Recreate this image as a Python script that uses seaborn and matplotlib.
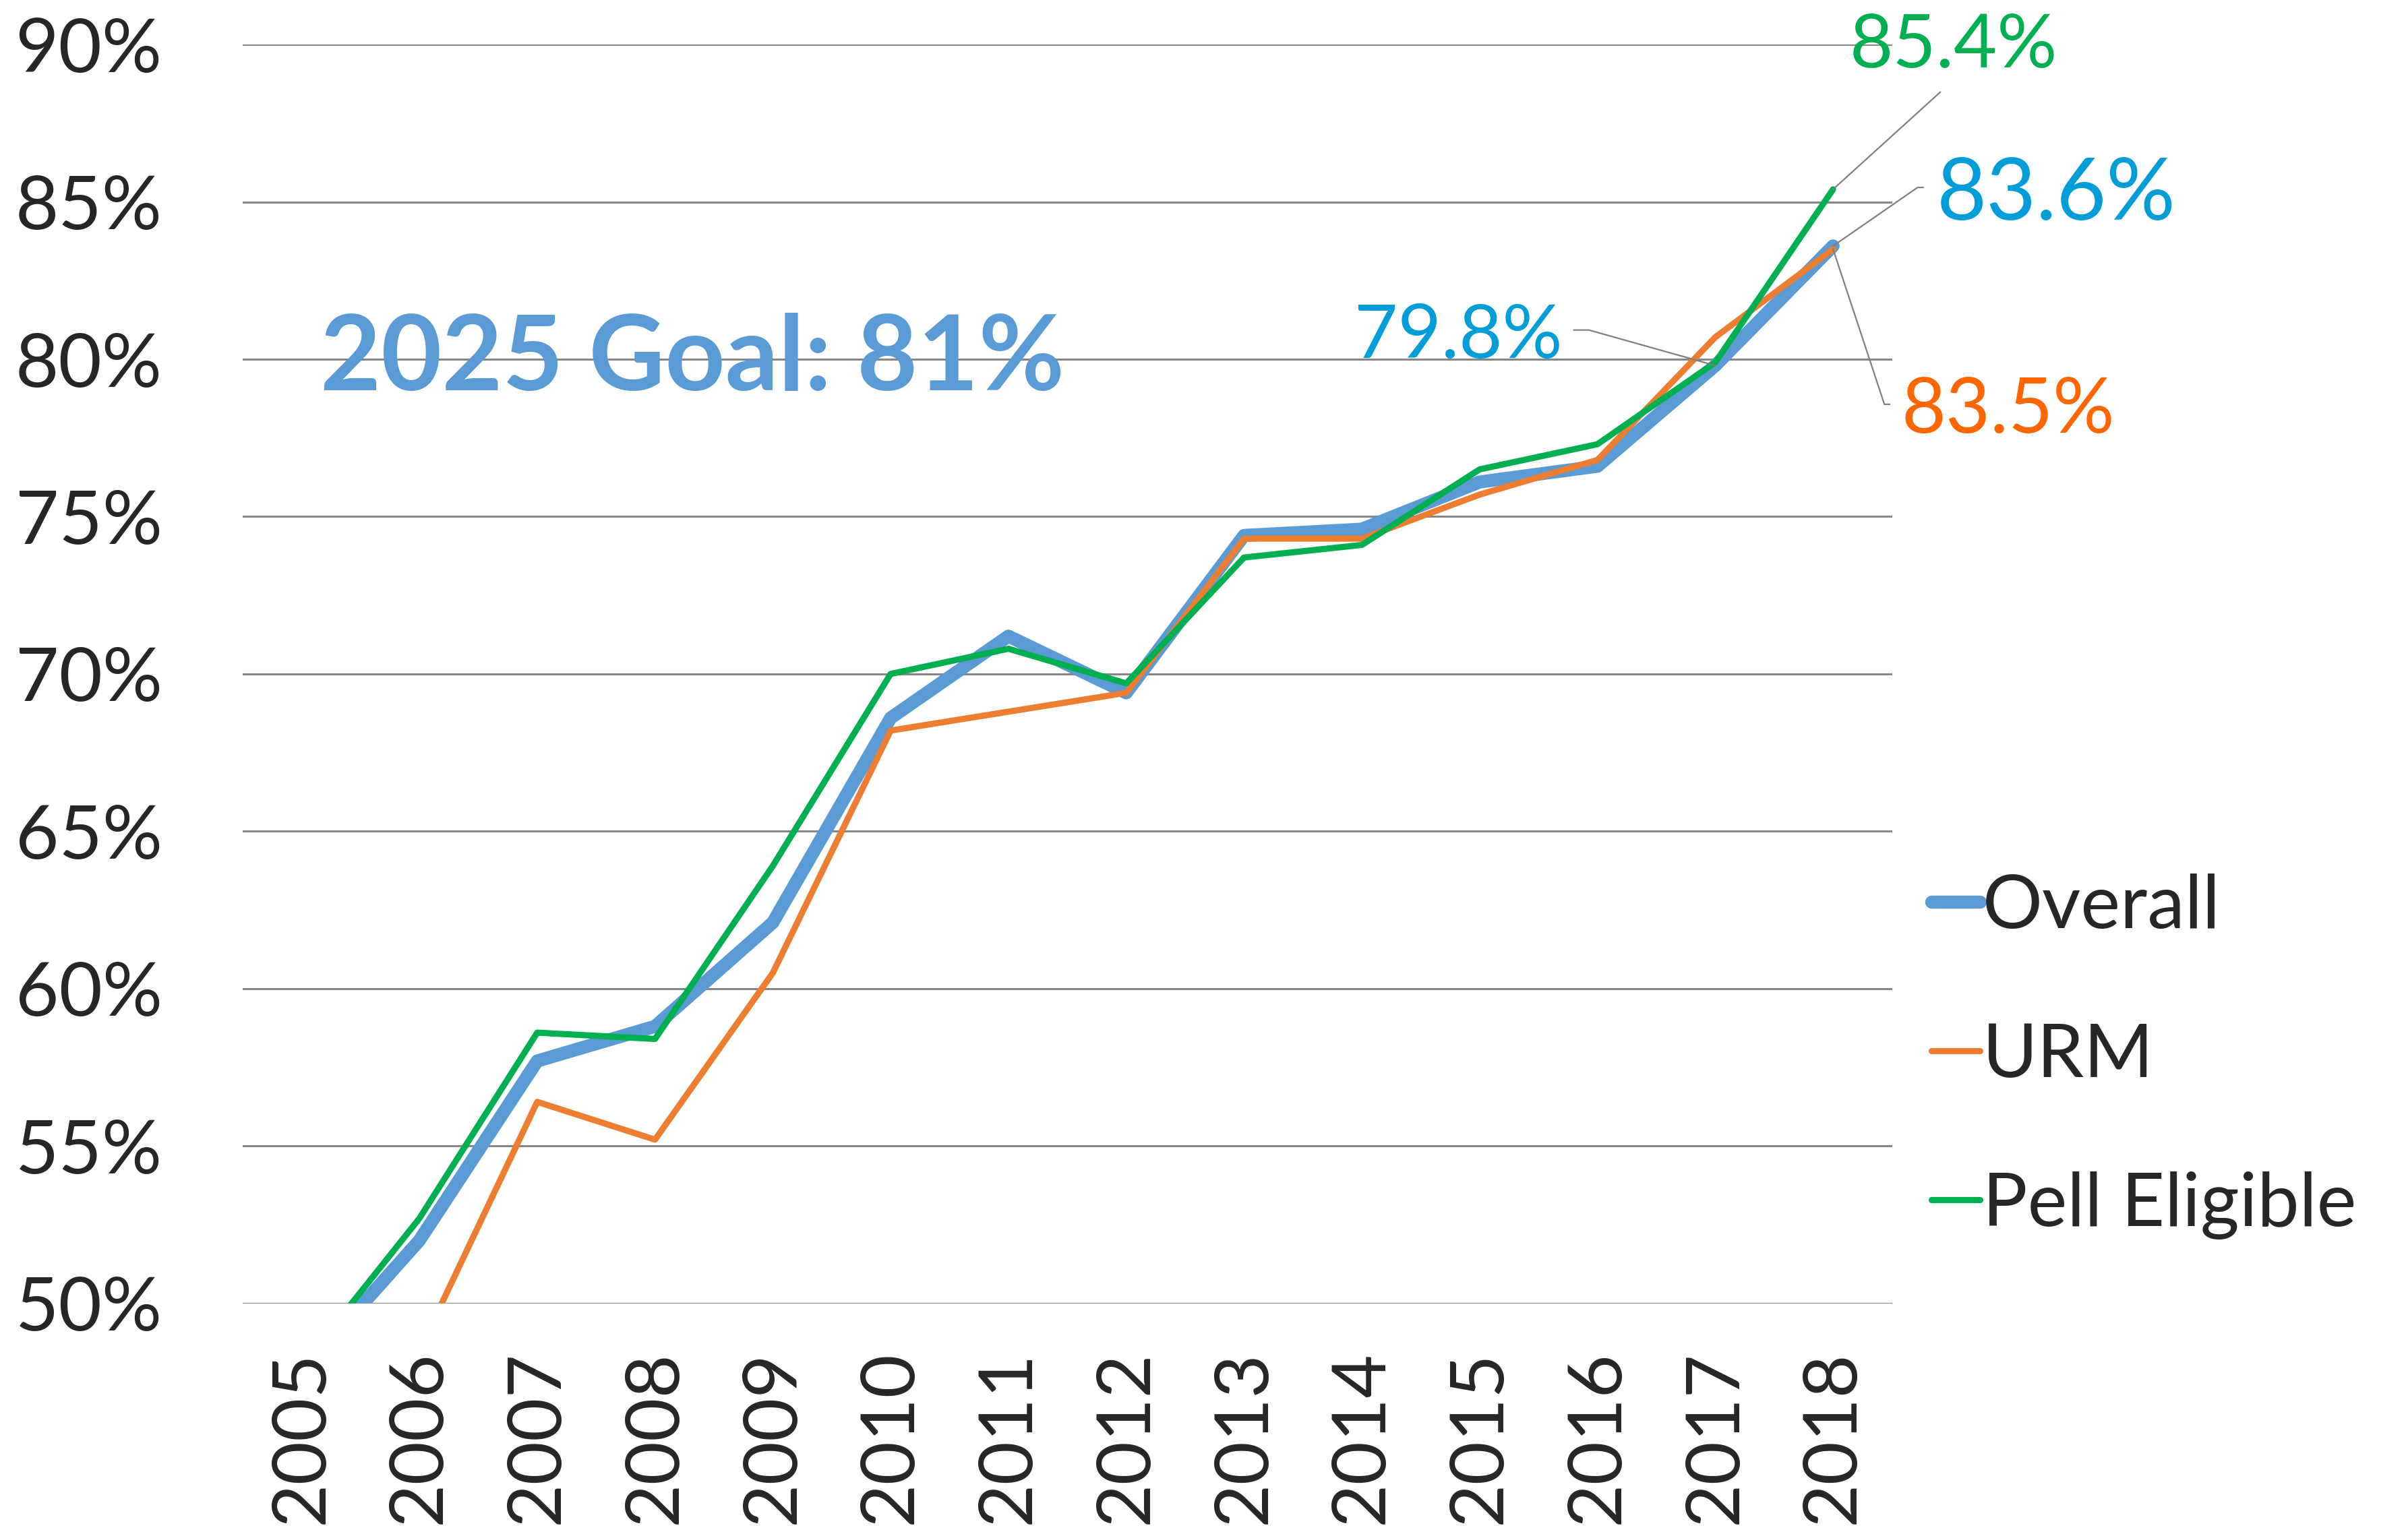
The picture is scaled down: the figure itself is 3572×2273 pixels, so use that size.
import pandas as pd
import matplotlib
matplotlib.use('Agg')
import matplotlib.pyplot as plt
import seaborn as sns

# 연도별 데이터 (%)
years = [2005, 2006, 2007, 2008, 2009, 2010, 2011, 2012, 2013, 2014, 2015, 2016, 2017, 2018]
overall = [47.8, 52.0, 57.7, 58.8, 62.1, 68.6, 71.2, 69.4, 74.4, 74.6, 76.1, 76.6, 79.8, 83.6]
urm = [45.0, 48.5, 56.4, 55.2, 60.5, 68.2, 68.8, 69.4, 74.3, 74.3, 75.7, 76.8, 80.7, 83.5]
pell = [48.0, 52.7, 58.6, 58.4, 63.9, 70.0, 70.8, 69.7, 73.7, 74.1, 76.5, 77.3, 79.9, 85.4]
y_ticks = [50, 55, 60, 65, 70, 75, 80, 85, 90]
goal_text = '2025 Goal: 81%'

series_names = ['Overall', 'URM', 'Pell Eligible']
colors = {'Overall': '#5B9BD5', 'URM': '#ED7D31', 'Pell Eligible': '#00B050'}
widths = {'Overall': 7.0, 'URM': 3.3, 'Pell Eligible': 3.3}

df = pd.DataFrame({'year': years, 'Overall': overall, 'URM': urm, 'Pell Eligible': pell})
df = df.melt(id_vars='year', var_name='series', value_name='rate')

sns.set_theme(style='white')
plt.rcParams['font.family'] = ['Lato', 'DejaVu Sans']

fig, ax = plt.subplots(figsize=(17.86, 11.365), dpi=200)
fig.subplots_adjust(left=0.1008, right=0.7857, top=0.9709, bottom=0.1493)

# 1. 선 그래프
for name in series_names:
    sub = df[df['series'] == name]
    sns.lineplot(x='year', y='rate', data=sub, ax=ax, color=colors[name], linewidth=widths[name],
                 label=name, solid_capstyle='round', solid_joinstyle='round')

# 2. 축 설정
ax.set_xlim(years[0] - 0.5, years[-1] + 0.5)
ax.set_ylim(y_ticks[0], y_ticks[-1])
ax.set_xticks(years)
ax.set_xticklabels([str(y) for y in years], rotation=90, fontsize=40)
ax.set_yticks(y_ticks)
ax.set_yticklabels([f'{t}%' for t in y_ticks], fontsize=40)
ax.tick_params(axis='y', length=0, pad=43)
ax.tick_params(axis='x', length=0, pad=25)
ax.set_xlabel('')
ax.set_ylabel('')
for s in ax.spines.values():
    s.set_visible(False)
ax.yaxis.grid(True, color='#868686', linewidth=1.1)
ax.xaxis.grid(False)
ax.set_axisbelow(True)

# 3. 목표 텍스트
ax.text(0.047, 0.7256, goal_text, transform=ax.transAxes, fontsize=56, fontweight='bold',
        color='#5B9BD5', va='baseline', ha='left')

# 4. 데이터 레이블 + 지시선
lead = dict(arrowstyle='-', color='#7f7f7f', lw=0.8, shrinkB=0)
ax.annotate(f'{pell[-1]:.1f}%', xy=(years[-1], pell[-1]), xytext=(2019.02, 89.27),
            ha='center', va='baseline', color='#00B050', fontsize=40, annotation_clip=False,
            arrowprops=dict(lead, relpos=(0.5, 0), shrinkA=6))
ax.annotate(f'{overall[-1]:.1f}%', xy=(years[-1], overall[-1]), xytext=(2018.88, 84.44),
            ha='left', va='baseline', color='#009DD9', fontsize=46, annotation_clip=False,
            arrowprops=dict(lead, relpos=(0, 0.6), shrinkA=5,
                            connectionstyle='angle,angleA=0,angleB=34.7,rad=0'))
ax.annotate(f'{urm[-1]:.1f}%', xy=(years[-1], urm[-1]), xytext=(2018.58, 77.66),
            ha='left', va='baseline', color='#FF6600', fontsize=41, annotation_clip=False,
            arrowprops=dict(lead, relpos=(0, 0.6), shrinkA=4,
                            connectionstyle='angle,angleA=0,angleB=-71.7,rad=0'))
ax.annotate(f'{overall[-2]:.1f}%', xy=(years[-2], overall[-2]), xytext=(2015.70, 80.05),
            ha='right', va='baseline', color='#009DD9', fontsize=40, annotation_clip=False,
            arrowprops=dict(lead, relpos=(1, 0.6), shrinkA=4,
                            connectionstyle='angle,angleA=0,angleB=164.3,rad=0'))

# 5. 범례
leg = ax.legend(loc='center left', bbox_to_anchor=(1.024, 0.196), frameon=False, fontsize=40,
                handlelength=0.65, handletextpad=0.03, labelspacing=1.09, borderpad=0, borderaxespad=0)
for line in leg.get_lines():
    line.set_solid_capstyle('round')

plt.savefig('out.png', dpi=200)
